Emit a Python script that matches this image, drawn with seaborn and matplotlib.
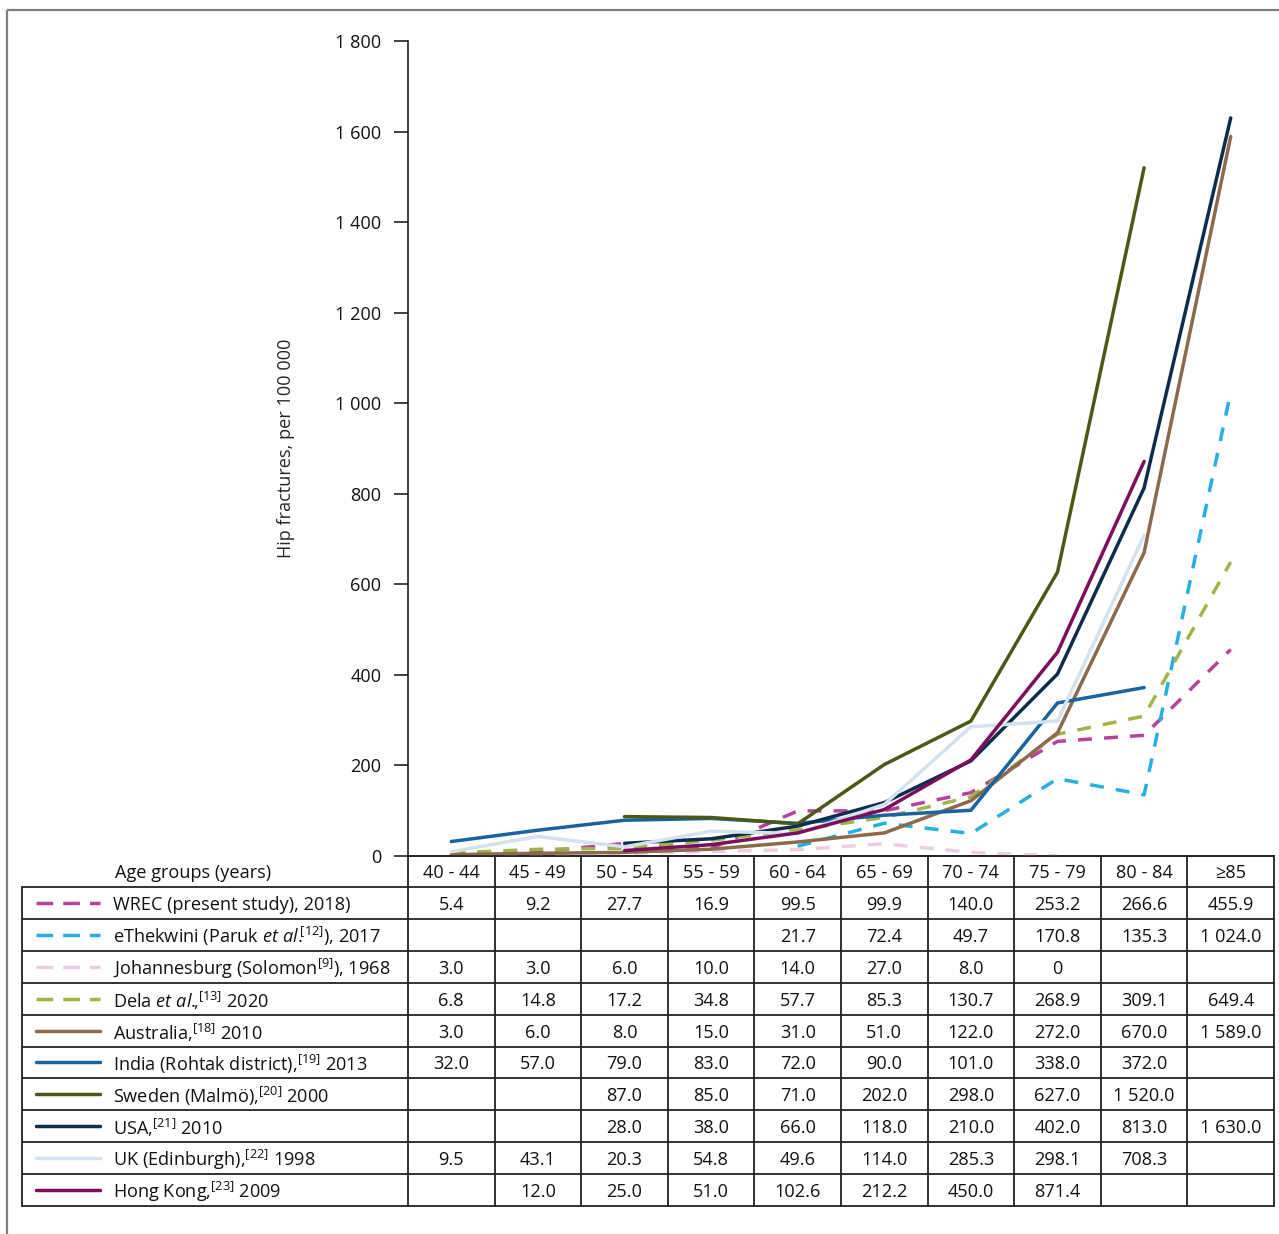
import numpy as np
import pandas as pd
import matplotlib
matplotlib.use("Agg")
import matplotlib.pyplot as plt
import seaborn as sns

# ---------------- data ----------------
age_groups = ["40 - 44", "45 - 49", "50 - 54", "55 - 59", "60 - 64",
              "65 - 69", "70 - 74", "75 - 79", "80 - 84", "≥85"]
nan = np.nan
wrec = [5.4, 9.2, 27.7, 16.9, 99.5, 99.9, 140.0, 253.2, 266.6, 455.9]
ethekwini = [nan, nan, nan, nan, 21.7, 72.4, 49.7, 170.8, 135.3, 1024.0]
johannesburg = [3.0, 3.0, 6.0, 10.0, 14.0, 27.0, 8.0, 0, nan, nan]
dela = [6.8, 14.8, 17.2, 34.8, 57.7, 85.3, 130.7, 268.9, 309.1, 649.4]
australia = [3.0, 6.0, 8.0, 15.0, 31.0, 51.0, 122.0, 272.0, 670.0, 1589.0]
india = [32.0, 57.0, 79.0, 83.0, 72.0, 90.0, 101.0, 338.0, 372.0, nan]
sweden = [nan, nan, 87.0, 85.0, 71.0, 202.0, 298.0, 627.0, 1520.0, nan]
usa = [nan, nan, 28.0, 38.0, 66.0, 118.0, 210.0, 402.0, 813.0, 1630.0]
uk = [9.5, 43.1, 20.3, 54.8, 49.6, 114.0, 285.3, 298.1, 708.3, nan]
hong_kong = [nan, 12.0, 25.0, 51.0, 102.6, 212.2, 450.0, 871.4, nan, nan]

series_labels = [
    r"WREC (present study), 2018)",
    r"eThekwini (Paruk $\mathit{et\ al.}\!\!{}^{[12]}$), 2017",
    r"Johannesburg (Solomon$^{[9]}$), 1968",
    r"Dela $\mathit{et\ al.}\!\!\mathrm{,}^{[13]}$ 2020",
    r"Australia,$^{[18]}$ 2010",
    r"India (Rohtak district),$^{[19]}$ 2013",
    r"Sweden (Malmö),$^{[20]}$ 2000",
    r"USA,$^{[21]}$ 2010",
    r"UK (Edinburgh),$^{[22]}$ 1998",
    r"Hong Kong,$^{[23]}$ 2009",
]
series_values = [wrec, ethekwini, johannesburg, dela, australia,
                 india, sweden, usa, uk, hong_kong]
# in the original chart the Hong Kong curve is drawn one age group to the right
series_plot_shift = [0, 0, 0, 0, 0, 0, 0, 0, 0, 1]
series_colors = ["#b4449a", "#27aee3", "#ebcde4", "#a0b448", "#8c6a4c",
                 "#1a63a0", "#4a5a16", "#0c2d4c", "#d4e2ee", "#7b0f5d"]
series_dashed = [True, True, True, True, False, False, False, False, False, False]

y_ticks = [0, 200, 400, 600, 800, 1000, 1200, 1400, 1600, 1800]

# ---------------- style ----------------
sns.set_theme(style="white")
FONT = "Open Sans"
plt.rcParams["font.family"] = [FONT, "DejaVu Sans"]
plt.rcParams["mathtext.fontset"] = "custom"
plt.rcParams["mathtext.rm"] = FONT
plt.rcParams["mathtext.it"] = FONT + ":italic"
plt.rcParams["mathtext.bf"] = FONT + ":bold"
plt.rcParams["text.color"] = "#111111"

W, H = 1279, 1234
fig = plt.figure(figsize=(W / 100, H / 100), dpi=100)

# layout in pixels
ax_left, ax_right, ax_top, ax_bottom = 408, 1274, 41, 856
tbl_left = 22
hdr_bottom = 887
row_h = (1206 - hdr_bottom) / 10
FS = 13.1

ax = fig.add_axes([ax_left / W, 1 - ax_bottom / H,
                   (ax_right - ax_left) / W, (ax_bottom - ax_top) / H])

x_idx = np.arange(len(age_groups))
for lab, vals, col, dsh, sh in zip(series_labels, series_values, series_colors,
                                   series_dashed, series_plot_shift):
    df = pd.DataFrame({"x": x_idx + sh, "y": vals}).dropna()
    ls = (0, (4.0, 3.5)) if dsh else "-"
    sns.lineplot(data=df, x="x", y="y", ax=ax, color=col, linewidth=2.5,
                 linestyle=ls, errorbar=None, sort=False, legend=False)

ax.set_xlim(-0.5, len(age_groups) - 0.5)
ax.set_ylim(0, 1800)
ax.set_yticks(y_ticks)
ax.set_yticklabels([f"{v:,.0f}".replace(",", " ") for v in y_ticks], fontsize=FS)
ax.set_xticks([])
ax.set_xlabel("")
ax.set_ylabel("Hip fractures, per 100 000", fontsize=FS)
ax.yaxis.set_label_coords(-0.131, 0.5)
ax.tick_params(axis="y", direction="out", length=10, width=1.2, color="#222222",
               pad=9, left=True, labelcolor="#111111")
for s in ["top", "right"]:
    ax.spines[s].set_visible(False)
for s in ["left", "bottom"]:
    ax.spines[s].set_color("#222222")
    ax.spines[s].set_linewidth(1.2)
ax.patch.set_alpha(0)

# ---------------- overlay for table & frame ----------------
ov = fig.add_axes([0, 0, 1, 1], zorder=-1)
ov.set_xlim(0, W)
ov.set_ylim(H, 0)
ov.axis("off")

# frame
ov.plot([7, W], [10, 10], color="#808080", lw=1.6, solid_capstyle="butt")
ov.plot([7, 7], [10, H], color="#808080", lw=1.6, solid_capstyle="butt")

lc = "#222222"
tlw = 1.3
n_cols = len(age_groups)
col_w = (ax_right - ax_left) / n_cols
col_edges = [ax_left + i * col_w for i in range(n_cols + 1)]
tbl_bottom = hdr_bottom + row_h * len(series_labels)

ov.plot([ax_left, ax_right], [ax_bottom, ax_bottom], color=lc, lw=tlw)
for r in range(len(series_labels) + 1):
    yy = hdr_bottom + r * row_h
    ov.plot([tbl_left, ax_right], [yy, yy], color=lc, lw=tlw)
ov.plot([tbl_left, tbl_left], [hdr_bottom, tbl_bottom], color=lc, lw=tlw)
for xe in col_edges:
    ov.plot([xe, xe], [ax_bottom, tbl_bottom], color=lc, lw=tlw)

ov.text(115, (ax_bottom + hdr_bottom) / 2 + 1, "Age groups (years)", fontsize=FS,
        ha="left", va="center")
for i, g in enumerate(age_groups):
    ov.text(col_edges[i] + col_w / 2, (ax_bottom + hdr_bottom) / 2 + 1, g,
            fontsize=FS, ha="center", va="center")


def fmt(v):
    if v == 0:
        return "0"
    return f"{v:,.1f}".replace(",", " ")


for r, (lab, vals, col, dsh) in enumerate(zip(series_labels, series_values,
                                               series_colors, series_dashed)):
    yc = hdr_bottom + (r + 0.5) * row_h
    if dsh:
        ov.plot([36, 100], [yc, yc], color=col, lw=2.5, linestyle=(0, (4.8, 2.9)))
    else:
        ov.plot([36, 100], [yc, yc], color=col, lw=2.5, solid_capstyle="round")
    ov.text(113, yc + 2, lab, fontsize=FS, ha="left", va="center")
    for i, v in enumerate(vals):
        if not np.isnan(v):
            ov.text(col_edges[i] + col_w / 2, yc + 2, fmt(v), fontsize=FS,
                    ha="center", va="center")

fig.savefig("out.png", dpi=100, facecolor="white")
